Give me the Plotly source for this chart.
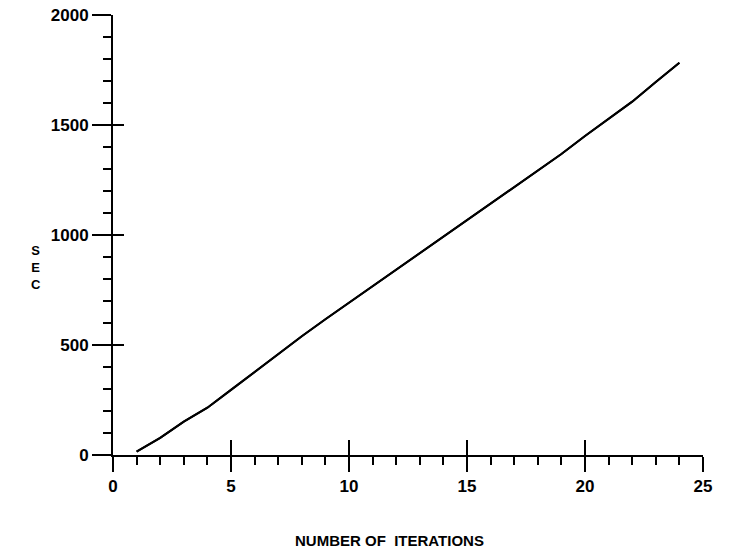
import plotly.graph_objects as go

iterations = list(range(1, 25))
seconds = [15, 78, 152, 215, 296, 378, 460, 540, 617, 692, 767, 842,
           917, 990, 1064, 1139, 1215, 1290, 1368, 1450, 1527, 1606, 1695, 1783]

x_ticks = [0, 5, 10, 15, 20, 25]
y_ticks = [0, 500, 1000, 1500, 2000]

FONT = "Liberation Sans"
tickfont = dict(family=FONT, size=17, color="black", weight="bold")

fig = go.Figure()
fig.add_trace(go.Scatter(x=iterations, y=seconds, mode="lines",
                         line=dict(color="black", width=2), showlegend=False,
                         hoverinfo="skip"))
fig.add_trace(go.Scatter(x=iterations, y=seconds, mode="lines", xaxis="x2", yaxis="y2",
                         line=dict(color="black", width=2), showlegend=False,
                         hoverinfo="skip"))

common_x = dict(range=[0, 25], tickvals=x_ticks, showgrid=False, zeroline=False, automargin=False)
common_y = dict(range=[0, 2000], tickvals=y_ticks, showgrid=False, zeroline=False, automargin=False)

fig.update_layout(
    width=731, height=551,
    margin=dict(l=113, r=28, t=15, b=96),
    paper_bgcolor="white", plot_bgcolor="white",
    xaxis=dict(**common_x, showline=True, linecolor="black", linewidth=2,
               ticks="outside", ticklen=15, tickwidth=2, tickcolor="black",
               ticktext=[str(v) for v in x_ticks], tickfont=tickfont,
               minor=dict(ticks="outside", dtick=1, ticklen=8, tickwidth=2, tickcolor="black")),
    yaxis=dict(**common_y, showline=True, linecolor="black", linewidth=2,
               ticks="outside", ticklen=19, tickwidth=2, tickcolor="black",
               tickfont=tickfont,
               minor=dict(ticks="outside", dtick=100, ticklen=8, tickwidth=2, tickcolor="black")),
    xaxis2=dict(**common_x, overlaying="x", anchor="y2", side="bottom", showline=False,
                ticks="inside", ticklen=15, tickwidth=2, tickcolor="black",
                showticklabels=False),
    yaxis2=dict(**common_y, overlaying="y", anchor="x2", side="left", showline=False,
                ticks="inside", ticklen=11, tickwidth=2, tickcolor="black",
                showticklabels=False),
    annotations=[
        dict(text="S<br>E<br>C", xref="paper", yref="paper", x=-0.1305, y=0.427,
             xanchor="center", yanchor="middle", showarrow=False, align="center",
             font=dict(family=FONT, size=13, color="black", weight="bold")),
        dict(text="NUMBER OF  ITERATIONS", xref="paper", yref="paper", x=0.469, y=-0.195,
             xanchor="center", yanchor="middle", showarrow=False,
             font=dict(family=FONT, size=15, color="black", weight="bold")),
    ],
)

fig.write_html("out.html")
